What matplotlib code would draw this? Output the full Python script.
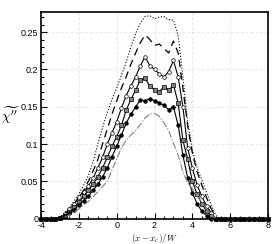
import matplotlib
matplotlib.use("Agg")
import matplotlib.pyplot as plt
from matplotlib.ticker import MultipleLocator

plt.rcParams['font.family'] = ['Liberation Sans', 'DejaVu Sans']
plt.rcParams['mathtext.fontset'] = 'cm'

# x positions, (x - x_c)/W
x = [-4.0, -3.75, -3.5, -3.25, -3.0, -2.75, -2.5, -2.25, -2.0, -1.75, -1.5, -1.25,
     -1.0, -0.75, -0.5, -0.25, 0.0, 0.25, 0.5, 0.75, 1.0, 1.25, 1.5, 1.75,
     2.0, 2.25, 2.5, 2.75, 3.0, 3.25, 3.5, 3.75, 4.0, 4.25, 4.5, 4.75,
     5.0, 5.25, 5.5, 5.75, 6.0, 6.25, 6.5, 6.75, 7.0, 7.25, 7.5, 7.75, 8.0]

zeros_tail = [0.0] * 10

dotted = [0, 0, 0, 0, 0.002, 0.008, 0.015, 0.024, 0.033, 0.045, 0.058, 0.076,
          0.1, 0.122, 0.142, 0.16, 0.175, 0.192, 0.21, 0.23, 0.248, 0.262, 0.271, 0.272,
          0.268, 0.27, 0.271, 0.267, 0.266, 0.245, 0.19, 0.13, 0.092, 0.068, 0.052, 0.035,
          0.018, 0.004, 0] + zeros_tail

dashed = [0, 0, 0, 0, 0.001, 0.006, 0.012, 0.02, 0.028, 0.038, 0.05, 0.064,
          0.079, 0.1, 0.12, 0.14, 0.158, 0.175, 0.19, 0.207, 0.222, 0.236, 0.246, 0.24,
          0.232, 0.234, 0.228, 0.222, 0.238, 0.222, 0.175, 0.125, 0.088, 0.063, 0.045, 0.028,
          0.013, 0.002, 0] + zeros_tail

open_c = [0, 0, 0, 0, 0.001, 0.006, 0.013, 0.02, 0.029, 0.036, 0.044, 0.054,
          0.068, 0.082, 0.1, 0.115, 0.13, 0.148, 0.165, 0.178, 0.19, 0.205, 0.217, 0.205,
          0.2, 0.194, 0.19, 0.197, 0.212, 0.19, 0.15, 0.095, 0.068, 0.045, 0.03, 0.017,
          0.007, 0, 0] + zeros_tail

gray_sq = [0, 0, 0, 0, 0.001, 0.004, 0.009, 0.015, 0.022, 0.03, 0.038, 0.046,
           0.056, 0.068, 0.082, 0.097, 0.11, 0.125, 0.145, 0.16, 0.172, 0.186, 0.188, 0.178,
           0.173, 0.17, 0.177, 0.172, 0.179, 0.155, 0.105, 0.08, 0.05, 0.033, 0.02, 0.01,
           0.003, 0, 0] + zeros_tail

black_c = [0, 0, 0, 0, 0.001, 0.003, 0.007, 0.012, 0.018, 0.024, 0.03, 0.038,
           0.046, 0.056, 0.068, 0.083, 0.097, 0.112, 0.128, 0.14, 0.15, 0.159, 0.158, 0.161,
           0.158, 0.155, 0.152, 0.146, 0.15, 0.125, 0.085, 0.055, 0.035, 0.02, 0.01, 0.004,
           0, 0, 0] + zeros_tail

dashdot = [0, 0, 0, 0, 0, 0.002, 0.005, 0.009, 0.013, 0.018, 0.023, 0.029,
           0.036, 0.043, 0.05, 0.065, 0.08, 0.095, 0.105, 0.112, 0.118, 0.126, 0.135, 0.14,
           0.141, 0.137, 0.128, 0.118, 0.101, 0.085, 0.063, 0.048, 0.04, 0.03, 0.022, 0.013,
           0.006, 0, 0] + zeros_tail

fig = plt.figure(figsize=(2.74, 2.44), dpi=100)
ax = fig.add_axes([0.150, 0.104, 0.828, 0.847])

ax.plot(x, dotted, color='black', lw=0.8, ls=':')
ax.plot(x, dashed, color='black', lw=0.9, ls=(0, (6, 4)))
ax.plot(x, open_c, color='black', lw=0.8, marker='o', ms=2.6, mfc='white', mec='black', mew=0.5, clip_on=False)
ax.plot(x, gray_sq, color='black', lw=0.8, marker='s', ms=2.4, mfc='#808080', mec='black', mew=0.5, clip_on=False)
ax.plot(x, black_c, color='black', lw=0.8, marker='o', ms=2.6, mfc='black', mec='black', mew=0.5, clip_on=False)
ax.plot(x, dashdot, color='#808080', lw=0.8, ls='-.')

ax.set_xlim(-4, 8)
ax.set_ylim(0, 0.277)
ax.xaxis.set_minor_locator(MultipleLocator(0.5))
ax.yaxis.set_minor_locator(MultipleLocator(0.01))
ax.set_yticks([0, 0.05, 0.1, 0.15, 0.2, 0.25])
ax.set_yticklabels(['0', '0.05', '0.1', '0.15', '0.2', '0.25'])
ax.set_xticks([-4, -2, 0, 2, 4, 6, 8])
ax.set_xticklabels(['-4', '-2', '0', '2', '4', '6', '8'])
ax.tick_params(which='both', direction='in', labelsize=6.5, pad=2, width=0.8)
ax.tick_params(which='major', length=4)
ax.tick_params(which='minor', length=2)
ax.grid(True, which='major', color='#dddddd', ls=(0, (4, 3)), lw=0.5)
for s in ax.spines.values():
    s.set_linewidth(1.2)

ax.set_xlabel(r'$(x-x_c)/W$', fontsize=6.5, labelpad=1)
fig.text(0.04, 0.53, r"$\widetilde{\chi''}$", fontsize=10, ha='center', va='center')

fig.savefig('out.png', dpi=100)
